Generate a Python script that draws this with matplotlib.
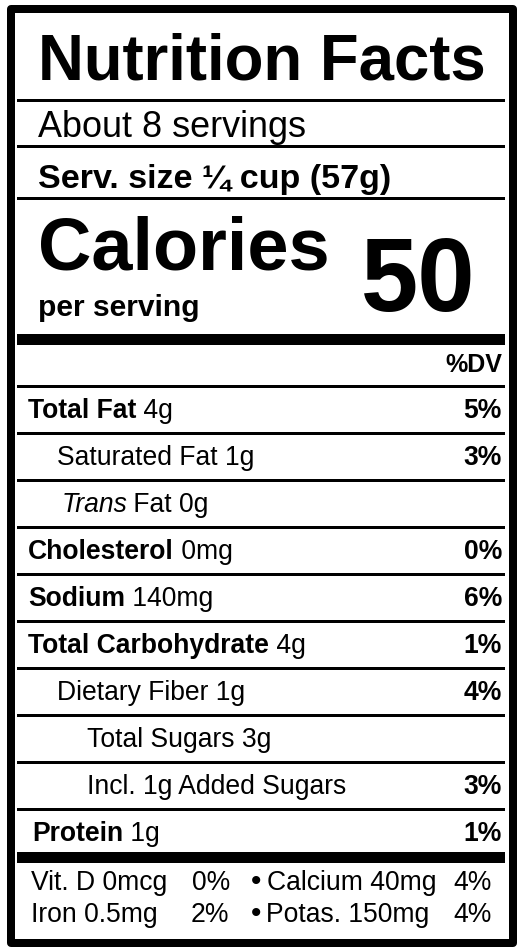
import matplotlib
matplotlib.use("Agg")
import matplotlib.pyplot as plt

W, H = 527, 952
FONT = "Liberation Sans"

servings = "About 8 servings"
serv_size = "Serv. size ¼ cup (57g)"
calories = "50"
rows_bold = ["Total Fat", "", "", "Cholesterol", "Sodium", "Total Carbohydrate", "", "", "", "Protein"]
rows_name = [" 4g", "Saturated Fat 1g", " Fat 0g", " 0mg", " 140mg", " 4g", "Dietary Fiber 1g", "Total Sugars 3g", "Incl. 1g Added Sugars", " 1g"]
rows_dv = ["5%", "3%", "", "0%", "6%", "1%", "4%", "", "3%", "1%"]
rows_x = [28, 57, 62, 28, 28, 28, 57, 87, 87, 32]
vit_left = ["Vit. D 0mcg", "Iron 0.5mg"]
vit_left_dv = ["0%", "2%"]
vit_right = ["Calcium 40mg", "Potas. 150mg"]
vit_right_dv = ["4%", "4%"]

fig = plt.figure(figsize=(W/100, H/100), dpi=100)
ax = fig.add_axes([0, 0, 1, 1])
ax.set_xlim(0, W); ax.set_ylim(H, 0); ax.axis("off")

def px(p):
    return p * 0.72

def txt(x, y, s, size, weight="normal", ha="left", style="normal"):
    return ax.text(x, y, s, fontsize=px(size), fontweight=weight, ha=ha, va="baseline",
                   family=[FONT, "DejaVu Sans"], fontstyle=style)

def right_of(t):
    fig.canvas.draw()
    bb = t.get_window_extent()
    return ax.transData.inverted().transform((bb.x1, bb.y0))[0]

ax.add_patch(plt.Rectangle((11, 9), 502, 934, fill=False, lw=px(8), edgecolor="black", joinstyle="round"))

def hline(y, t):
    ax.fill_between([17, 505], y - t/2, y + t/2, color="black", lw=0)

txt(38, 80, "Nutrition Facts", 63.5, "bold")
hline(100, 3)
txt(38, 137, servings, 36)
hline(146, 3)
txt(38, 188, serv_size, 34, "bold")
hline(198, 3)
txt(38, 270, "Calories", 74, "bold")
txt(38, 316, "per serving", 30, "bold")
txt(476, 311, calories, 103, "bold", ha="right")
hline(339, 11)
txt(502, 372, "%DV", 25, "bold", ha="right")
hline(386, 3)

lines = [386 + 47 * i for i in range(10)]
for i in range(10):
    base = lines[i] + 32
    x = rows_x[i]
    if i == 2:
        t = txt(x, base, "Trans", 26.5, style="italic")
        txt(right_of(t) - 2, base, rows_name[i], 26.5)
    elif rows_bold[i]:
        t = txt(x, base, rows_bold[i], 26.5, "bold")
        txt(right_of(t), base, rows_name[i], 26.5)
    else:
        txt(x, base, rows_name[i], 26.5)
    if rows_dv[i]:
        txt(502, base, rows_dv[i], 26.5, "bold", ha="right")
    if i < 9:
        hline(lines[i + 1], 3)

hline(857, 11)
for j, yb in enumerate([890, 922]):
    txt(31, yb, vit_left[j], 26.5)
    txt(230 - j, yb, vit_left_dv[j], 26.5, ha="right")
    txt(256, yb, "•", 30, ha="center")
    txt(267 - j, yb, vit_right[j], 26.5)
    txt(492, yb, vit_right_dv[j], 26.5, ha="right")

fig.savefig("out.png", dpi=100, facecolor="white")
